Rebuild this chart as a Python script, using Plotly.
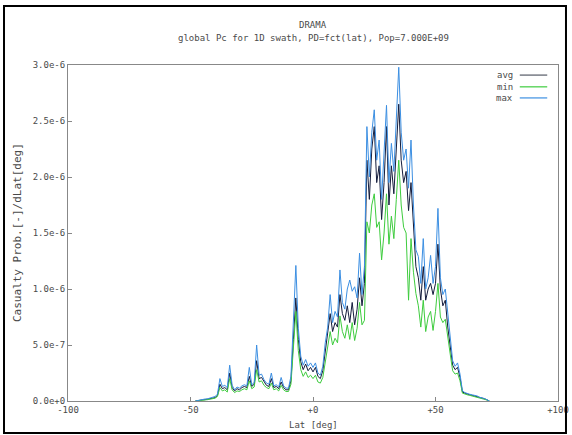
import plotly.graph_objects as go

# Latitude grid [deg]
lat = list(range(-48, 73))

# Values in units of 1e-6 (casualty probability per deg latitude)
avg = [0.000, 0.005, 0.008, 0.010, 0.012, 0.015, 0.020, 0.025, 0.030, 0.050,
       0.150, 0.110, 0.120, 0.100, 0.250, 0.120, 0.090, 0.110, 0.100, 0.120,
       0.130, 0.120, 0.220, 0.130, 0.150, 0.360, 0.200, 0.210, 0.170, 0.140,
       0.130, 0.200, 0.120, 0.130, 0.110, 0.170, 0.120, 0.100, 0.100, 0.180,
       0.550, 0.920, 0.550, 0.350, 0.280, 0.330, 0.270, 0.300, 0.260, 0.300,
       0.220, 0.200, 0.270, 0.450, 0.580, 0.780, 0.620, 0.700, 0.660, 0.950,
       0.780, 0.720, 0.850, 0.700, 0.880, 0.680, 0.820, 1.100, 0.850, 1.050,
       2.150, 1.800, 2.250, 2.450, 1.950, 2.100, 1.620, 1.950, 2.450, 1.750,
       2.100, 1.850, 2.250, 2.650, 2.150, 1.950, 2.050, 1.700, 1.950, 1.550,
       1.200, 1.100, 0.900, 1.200, 0.900, 1.000, 1.050, 0.950, 1.050, 1.400,
       1.000, 0.850, 0.900, 0.660, 0.500, 0.320, 0.280, 0.300, 0.210, 0.080,
       0.070, 0.060, 0.055, 0.050, 0.045, 0.040, 0.030, 0.025, 0.020, 0.010,
       0.000]
vmin = [0.000, 0.004, 0.006, 0.008, 0.010, 0.012, 0.015, 0.020, 0.025, 0.040,
        0.120, 0.090, 0.100, 0.080, 0.200, 0.100, 0.075, 0.090, 0.085, 0.100,
        0.110, 0.100, 0.180, 0.110, 0.125, 0.280, 0.170, 0.180, 0.140, 0.120,
        0.110, 0.160, 0.100, 0.110, 0.090, 0.140, 0.100, 0.085, 0.085, 0.150,
        0.450, 0.800, 0.450, 0.280, 0.220, 0.260, 0.210, 0.230, 0.200, 0.230,
        0.170, 0.160, 0.210, 0.360, 0.470, 0.620, 0.500, 0.560, 0.520, 0.760,
        0.620, 0.560, 0.680, 0.550, 0.700, 0.540, 0.650, 0.880, 0.680, 0.720,
        1.600, 1.500, 1.750, 1.850, 1.550, 1.600, 1.260, 1.500, 1.850, 1.400,
        1.650, 1.450, 1.800, 2.150, 1.750, 1.550, 1.500, 0.900, 1.450, 1.150,
        0.960, 0.850, 0.660, 0.900, 0.620, 0.750, 0.800, 0.630, 0.800, 1.050,
        0.750, 0.700, 0.730, 0.550, 0.420, 0.270, 0.240, 0.250, 0.180, 0.070,
        0.060, 0.055, 0.050, 0.045, 0.040, 0.035, 0.027, 0.022, 0.018, 0.009,
        0.000]
vmax = [0.000, 0.006, 0.010, 0.012, 0.018, 0.020, 0.025, 0.030, 0.040, 0.060,
        0.200, 0.130, 0.140, 0.120, 0.320, 0.140, 0.100, 0.125, 0.115, 0.135,
        0.145, 0.135, 0.300, 0.145, 0.165, 0.500, 0.230, 0.240, 0.190, 0.160,
        0.150, 0.250, 0.135, 0.145, 0.125, 0.210, 0.135, 0.115, 0.115, 0.220,
        0.700, 1.210, 0.650, 0.400, 0.320, 0.370, 0.310, 0.340, 0.300, 0.340,
        0.250, 0.230, 0.310, 0.520, 0.660, 0.950, 0.700, 0.800, 0.750, 1.170,
        0.880, 0.820, 1.000, 1.080, 0.980, 1.020, 0.920, 1.320, 0.950, 1.200,
        2.450, 2.000, 2.400, 2.600, 2.150, 2.330, 1.800, 2.200, 2.640, 1.950,
        2.300, 2.050, 2.500, 2.980, 2.400, 2.150, 2.250, 1.900, 2.330, 1.750,
        1.350, 1.290, 1.050, 1.450, 1.000, 1.100, 1.300, 1.050, 1.200, 1.720,
        1.100, 0.950, 1.000, 0.780, 0.560, 0.360, 0.310, 0.340, 0.240, 0.090,
        0.075, 0.065, 0.060, 0.055, 0.050, 0.045, 0.033, 0.028, 0.022, 0.011,
        0.000]

x_ticks = [-100, -50, 0, 50, 100]
x_ticktext = ["-100", "-50", "+0", "+50", "+100"]
y_ticks = [0.0, 0.5e-6, 1.0e-6, 1.5e-6, 2.0e-6, 2.5e-6, 3.0e-6]
y_ticktext = ["0.0e+0", "5.0e-7", "1.0e-6", "1.5e-6", "2.0e-6", "2.5e-6", "3.0e-6"]

series_names = ["avg", "min", "max"]
series_colors = ["#141c3c", "#3ecc3e", "#3c8fe2"]
series_vals = [avg, vmin, vmax]

FONT = "DejaVu Sans Mono"
TXT = "#4a4a4a"
AX = "#888888"
FS = 9

fig = go.Figure()
for name, col, vals in zip(series_names, series_colors, series_vals):
    fig.add_trace(go.Scatter(
        x=lat, y=[v * 1e-6 for v in vals], mode="lines", name=name,
        line=dict(color=col, width=1), showlegend=False))

annotations = []
shapes = []

# titles
annotations.append(dict(x=0.5, y=1.119, xref="paper", yref="paper", text="DRAMA",
                        showarrow=False, xanchor="center", yanchor="middle",
                        font=dict(family=FONT, size=FS, color=TXT)))
annotations.append(dict(x=0.5, y=1.080, xref="paper", yref="paper",
                        text="global Pc for 1D swath, PD=fct(lat), Pop=7.000E+09",
                        showarrow=False, xanchor="center", yanchor="middle",
                        font=dict(family=FONT, size=FS, color=TXT)))
# axis titles
annotations.append(dict(x=0.5, y=-0.0714, xref="paper", yref="paper", text="Lat [deg]",
                        showarrow=False, xanchor="center", yanchor="middle",
                        font=dict(family=FONT, size=FS, color=TXT)))
annotations.append(dict(x=-0.104, y=0.5, xref="paper", yref="paper",
                        text="Casualty Prob.[-]/dLat[deg]", textangle=-90,
                        showarrow=False, xanchor="center", yanchor="middle",
                        font=dict(family=FONT, size=11, color=TXT)))

# Custom gnuplot-style legend (text left, sample right)
leg_y = [0.970, 0.935, 0.902]
for name, col, yy in zip(series_names, series_colors, leg_y):
    annotations.append(dict(x=0.912, y=yy, xref="paper", yref="paper",
                            text=name, showarrow=False, xanchor="right",
                            yanchor="middle",
                            font=dict(family=FONT, size=FS, color=TXT)))
    shapes.append(dict(type="line", xref="paper", yref="paper",
                       x0=0.922, x1=0.978, y0=yy, y1=yy,
                       line=dict(color=col if name != "avg" else "#555a66", width=1.2)))

# outer black frame around the whole picture
shapes.append(dict(type="rect", xref="paper", yref="paper",
                   x0=-0.1306, x1=1.0163, y0=-0.0952, y1=1.1756,
                   line=dict(color="black", width=2), layer="above"))

fig.update_layout(
    width=572, height=435,
    margin=dict(l=68, r=14, t=65, b=34, autoexpand=False),
    paper_bgcolor="white", plot_bgcolor="white",
    xaxis=dict(range=[-100, 100], tickvals=x_ticks, ticktext=x_ticktext,
               ticks="inside", ticklen=4, tickcolor=AX, showgrid=False,
               zeroline=False, showline=True, linecolor=AX, linewidth=1,
               mirror=True, automargin=False,
               tickfont=dict(family=FONT, size=FS, color=TXT)),
    yaxis=dict(range=[0, 3.0e-6], tickvals=y_ticks, ticktext=y_ticktext,
               ticks="inside", ticklen=4, tickcolor=AX, showgrid=False,
               zeroline=False, showline=True, linecolor=AX, linewidth=1,
               mirror=True, automargin=False,
               tickfont=dict(family=FONT, size=FS, color=TXT)),
    annotations=annotations, shapes=shapes,
)

fig.write_html("out.html")
